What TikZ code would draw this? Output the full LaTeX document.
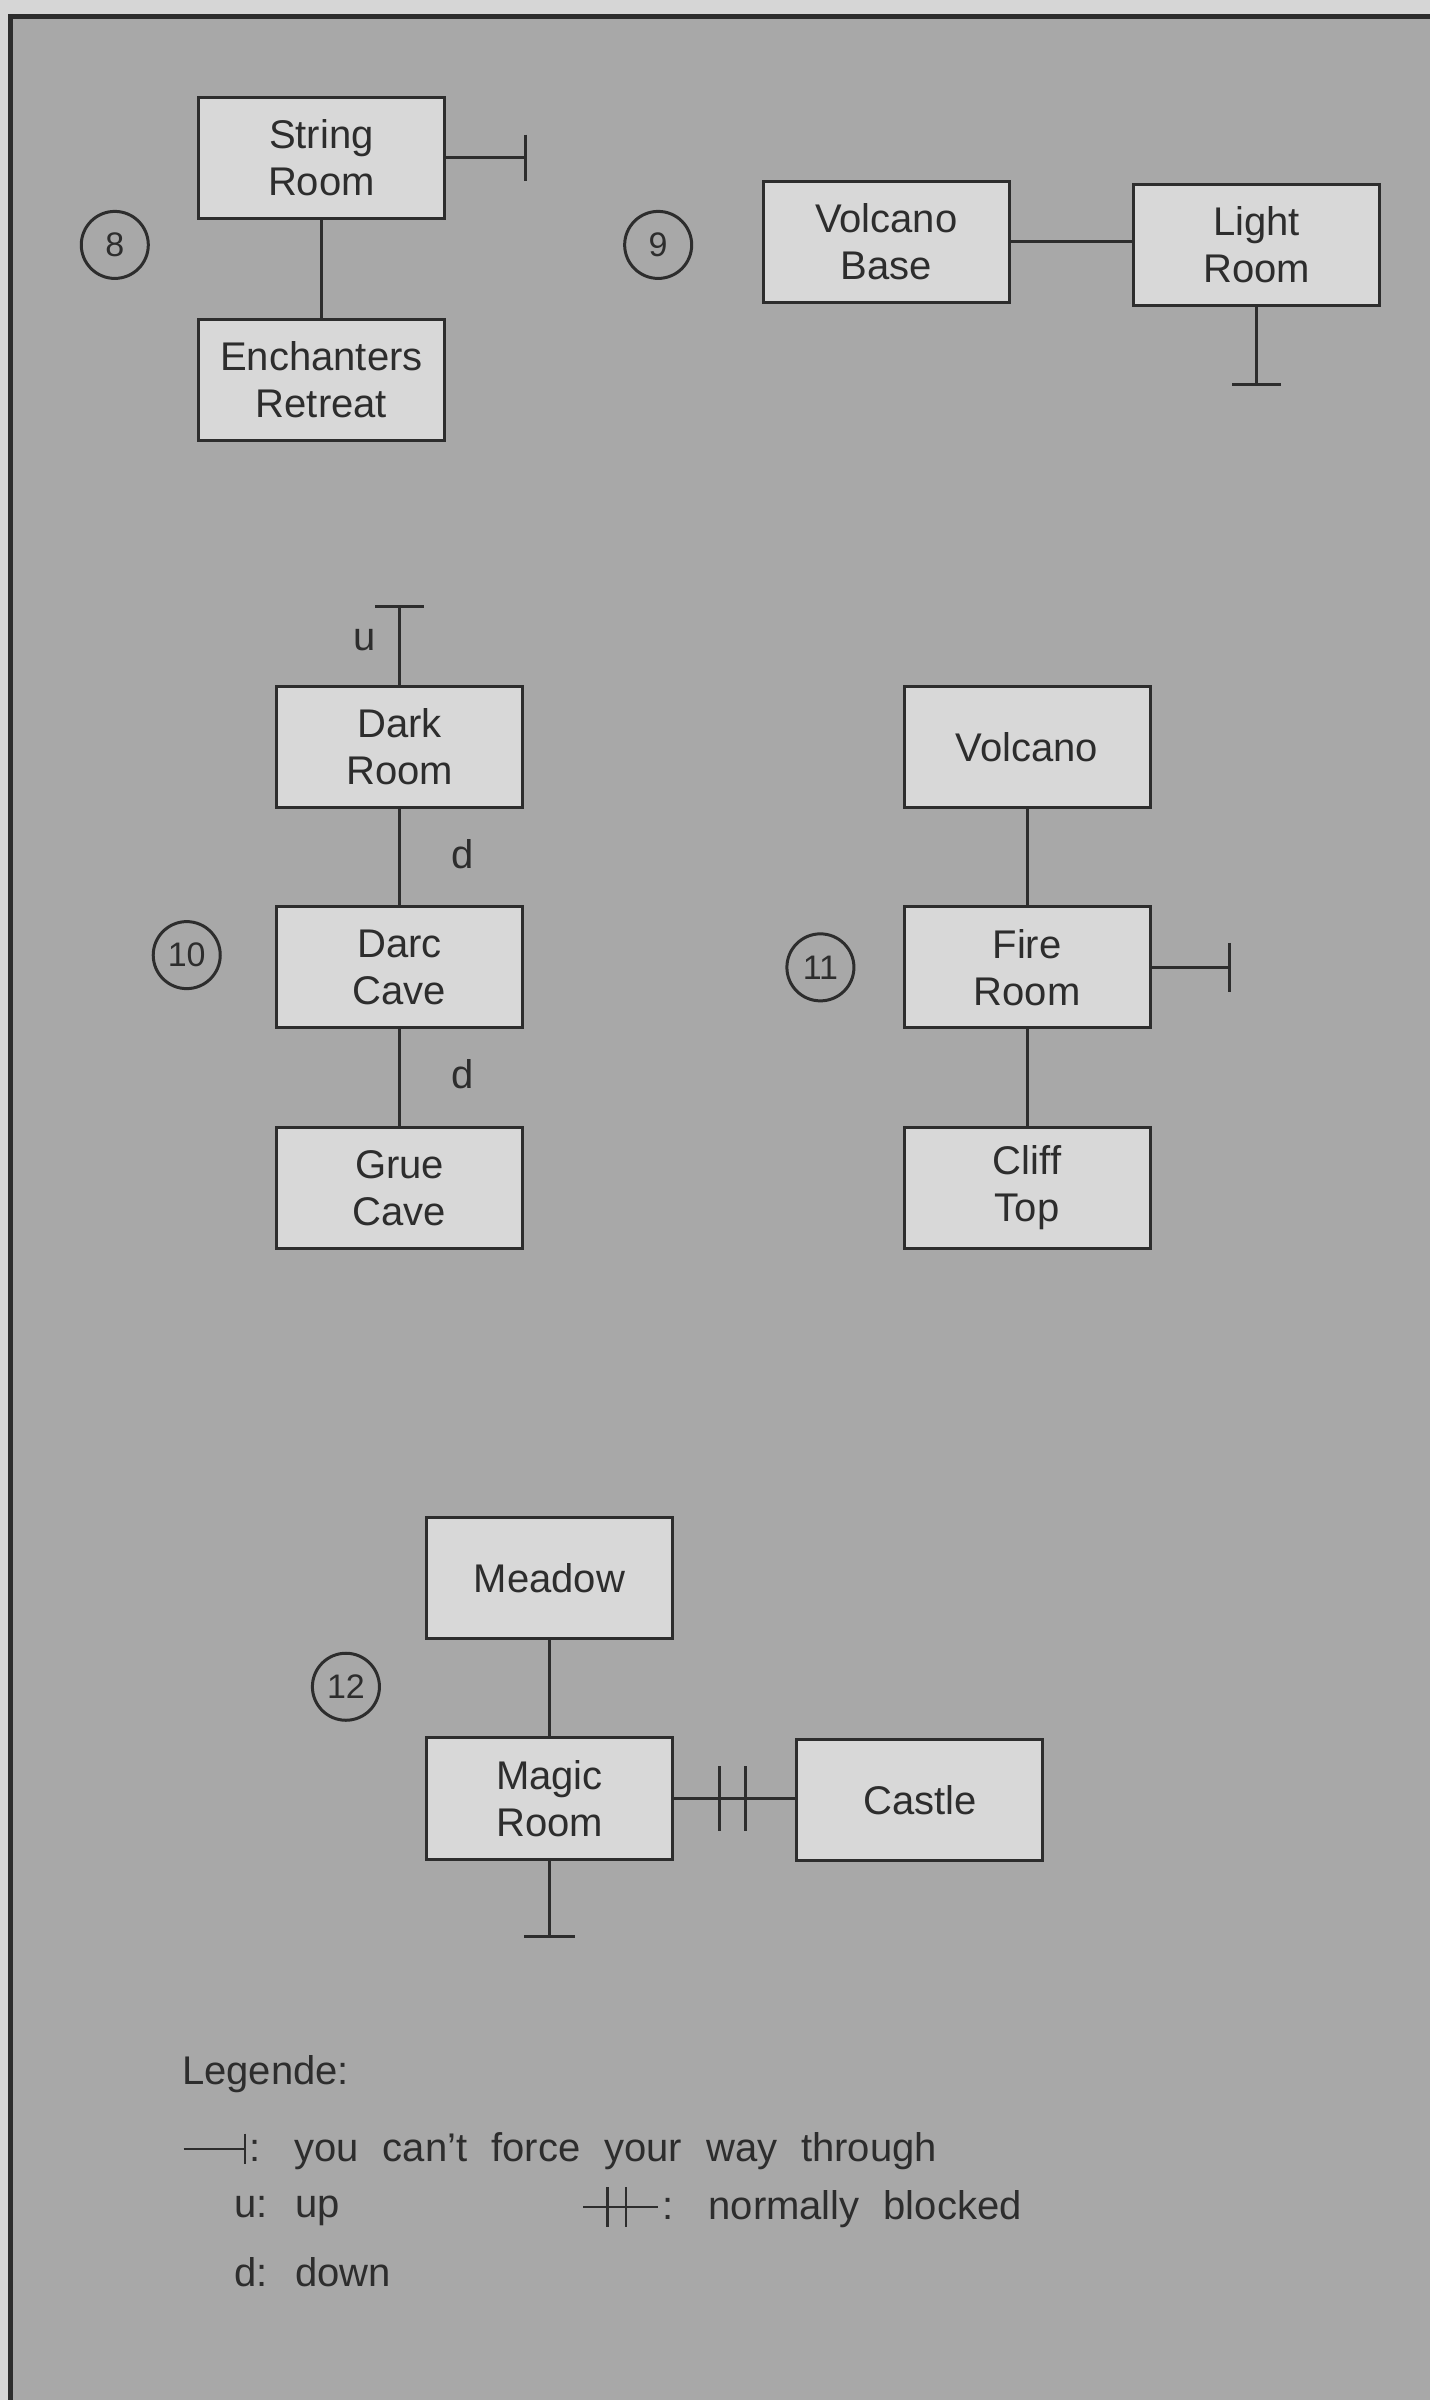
\documentclass[tikz,border=0pt]{standalone}
\usepackage{fontspec}
\setmainfont{Liberation Sans}
\usetikzlibrary{calc}
\definecolor{bgout}{RGB}{214,214,214}
\definecolor{bgin}{RGB}{168,168,168}
\definecolor{boxfill}{RGB}{216,216,216}
\definecolor{ink}{RGB}{45,45,45}
\newcommand{\widespaces}{\spaceskip 24pt\relax}
\begin{document}
\begin{tikzpicture}[x=1.53pt,y=-1.53pt,line width=3pt,
  room/.style={draw=ink,fill=boxfill,minimum width=246pt,minimum height=121pt,inner sep=0pt,align=center,text=ink,font=\fontsize{40}{47}\selectfont},
  num/.style={draw=ink,circle,minimum size=67pt,inner sep=0pt,text=ink,font=\fontsize{34}{34}\selectfont},
  lbl/.style={text=ink,inner sep=0pt,font=\fontsize{40}{47}\selectfont},
  legtxt/.style={text=ink,inner sep=0pt,anchor=base west,font=\fontsize{40}{47}\selectfont},
  conn/.style={draw=ink,line width=3pt},
  frame/.style={draw=ink,line width=5pt}]
\useasboundingbox (0,0) rectangle (934,1568);
\fill[bgout] (0,0) rectangle (934,1568);
\fill[bgin] (7,10.5) rectangle (934,1568);
\draw[frame] (7,1572) -- (7,10.5) -- (938,10.5);

% group 8
\node[room] (sr) at (210,103) {String\\Room};
\node[room] (er) at (210,248) {Enchanters\\Retreat};
\node[num] (n8) at (75,160) {8};
\draw[conn] (sr) -- (er);
\coordinate (srx) at (343,103);
\draw[conn] (sr.east) -- (srx);
\draw[conn] ($(srx)+(0,-15)$) -- ($(srx)+(0,15)$);

% group 9
\node[num] (n9) at (430,160) {9};
\node[room] (vb) at (579,158) {Volcano\\Base};
\node[room] (lr) at (821,160) {Light\\Room};
\draw[conn] (vb.east) -- (vb.east -| lr.west);
\coordinate (lrx) at (821,251);
\draw[conn] (lr.south) -- (lrx);
\draw[conn] ($(lrx)+(-16,0)$) -- ($(lrx)+(16,0)$);

% group 10
\node[room] (dr) at (261,488) {Dark\\Room};
\node[room] (dc) at (261,632) {Darc\\Cave};
\node[room] (gc) at (261,776) {Grue\\Cave};
\node[num] (n10) at (122,624) {10};
\coordinate (drx) at (261,396);
\draw[conn] (dr.north) -- (drx);
\draw[conn] ($(drx)+(-16,0)$) -- ($(drx)+(16,0)$);
\node[lbl] (lu) at (238,418) {u};
\draw[conn] (dr) -- (dc);
\draw[conn] (dc) -- (gc);
\node[lbl] (ld1) at (302,558) {d};
\node[lbl] (ld2) at (302,702) {d};

% group 11
\node[room] (vo) at (671,488) {Volcano};
\node[room] (fr) at (671,632) {Fire\\Room};
\node[room] (ct) at (671,776) {Cliff\\Top};
\node[num] (n11) at (536,632) {11};
\draw[conn] (vo) -- (fr);
\draw[conn] (fr) -- (ct);
\coordinate (frx) at (803,632);
\draw[conn] (fr.east) -- (frx);
\draw[conn] ($(frx)+(0,-16)$) -- ($(frx)+(0,16)$);

% group 12
\node[room] (me) at (359,1031) {Meadow};
\node[room] (mr) at (359,1175) {Magic\\Room};
\node[room] (ca) at (601,1176) {Castle};
\node[num] (n12) at (226,1102) {12};
\draw[conn] (me) -- (mr);
\draw[conn] (mr.east) -- (mr.east -| ca.west);
\coordinate (b1) at (470,1175);
\coordinate (b2) at (487,1175);
\draw[conn] ($(b1)+(0,-21)$) -- ($(b1)+(0,21)$);
\draw[conn] ($(b2)+(0,-21)$) -- ($(b2)+(0,21)$);
\coordinate (mrx) at (359,1265);
\draw[conn] (mr.south) -- (mrx);
\draw[conn] ($(mrx)+(-16.5,0)$) -- ($(mrx)+(16.5,0)$);

% legend
\node[legtxt] (leg) at (118,1362) {Legende:};
\coordinate (l1a) at (120,1404);
\coordinate (l1b) at (160,1404);
\draw[conn,line width=2.5pt] (l1a) -- (l1b);
\draw[conn,line width=2.5pt] ($(l1b)+(0,-10)$) -- ($(l1b)+(0,10)$);
\node[legtxt] (leg1) at (162,1412) {\widespaces :\hspace{6pt} you can't force your way through};
\node[legtxt] (leg2) at (152,1449) {\widespaces u: up};
\coordinate (l2a) at (381,1442);
\coordinate (l2b) at (430,1442);
\draw[conn,line width=2.5pt] (l2a) -- (l2b);
\draw[conn,line width=2.5pt] (397,1429) -- (397,1455);
\draw[conn,line width=2.5pt] (409,1429) -- (409,1455);
\node[legtxt] (leg3) at (432,1450) {\widespaces :\hspace{7pt} normally blocked};
\node[legtxt] (leg4) at (152,1494) {\widespaces d: down};
\end{tikzpicture}
\end{document}
